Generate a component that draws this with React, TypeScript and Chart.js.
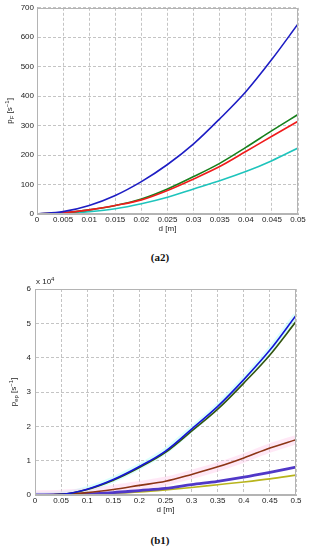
import React, { useEffect, useRef } from 'react';
import { Chart, registerables } from 'chart.js';

Chart.register(...registerables);

// ---------- Panel (a2) ----------
const aD = [0, 0.005, 0.01, 0.015, 0.02, 0.025, 0.03, 0.035, 0.04, 0.045, 0.05];
const aBlue = [0, 8, 29, 63, 110, 168, 238, 323, 415, 525, 645];
const aGreen = [0, 4, 14, 29, 51, 85, 127, 172, 226, 283, 338];
const aRed = [0, 4, 14, 29, 48, 80, 119, 161, 212, 264, 315];
const aCyan = [0, 2, 8, 18, 35, 57, 85, 113, 144, 181, 224];
const aXTicks = [0, 0.005, 0.01, 0.015, 0.02, 0.025, 0.03, 0.035, 0.04, 0.045, 0.05];
const aXTickLabels = ['0', '0.005', '0.01', '0.015', '0.02', '0.025', '0.03', '0.035', '0.04', '0.045', '0.05'];
const aYTicks = [0, 100, 200, 300, 400, 500, 600, 700];
const aYTickLabels = ['0', '100', '200', '300', '400', '500', '600', '700'];

// ---------- Panel (b1) (values in units of 10^4) ----------
const bD = [0, 0.05, 0.1, 0.15, 0.2, 0.25, 0.3, 0.35, 0.4, 0.45, 0.5];
const bBlue = [0, 0.02, 0.17, 0.45, 0.83, 1.28, 1.92, 2.58, 3.36, 4.22, 5.23];
const bGreen = [0, 0.02, 0.16, 0.43, 0.8, 1.24, 1.86, 2.5, 3.26, 4.08, 5.05];
const bBrown = [0, 0.02, 0.07, 0.16, 0.28, 0.4, 0.6, 0.82, 1.08, 1.37, 1.61];
const bPurple = [0, 0.01, 0.03, 0.07, 0.13, 0.19, 0.3, 0.4, 0.52, 0.66, 0.81];
const bYellow = [0, 0.005, 0.02, 0.05, 0.09, 0.15, 0.22, 0.3, 0.38, 0.47, 0.58];
const bXTicks = [0, 0.05, 0.1, 0.15, 0.2, 0.25, 0.3, 0.35, 0.4, 0.45, 0.5];
const bXTickLabels = ['0', '0.05', '0.1', '0.15', '0.2', '0.25', '0.3', '0.35', '0.4', '0.45', '0.5'];
const bYTicks = [0, 1, 2, 3, 4, 5, 6];
const bYTickLabels = ['0', '1', '2', '3', '4', '5', '6'];

const FAMILY = "'Liberation Sans', Arial, Helvetica, sans-serif";
const TEXT = '#222222';
const GRID = '#c4c4c4';
const BOX = '#b4b4b4';

type Piece = { t: string; s: number; dy?: number };

function drawPieces(
  ctx: CanvasRenderingContext2D,
  pieces: Piece[],
  x: number,
  y: number,
  rotate: boolean,
  align: 'center' | 'left'
) {
  ctx.save();
  ctx.translate(x, y);
  if (rotate) ctx.rotate(-Math.PI / 2);
  ctx.fillStyle = TEXT;
  ctx.textBaseline = 'middle';
  ctx.textAlign = 'left';
  let total = 0;
  for (const p of pieces) {
    ctx.font = `${p.s}px ${FAMILY}`;
    total += ctx.measureText(p.t).width;
  }
  let cx = align === 'center' ? -total / 2 : 0;
  for (const p of pieces) {
    ctx.font = `${p.s}px ${FAMILY}`;
    ctx.fillText(p.t, cx, p.dy || 0);
    cx += ctx.measureText(p.t).width;
  }
  ctx.restore();
}

type PanelSpec = {
  width: number;
  height: number;
  padTop: number;
  padRight: number;
  yAxisWidth: number;
  xAxisHeight: number;
  xMin: number;
  xMax: number;
  yMin: number;
  yMax: number;
  xTicks: number[];
  xTickLabels: string[];
  yTicks: number[];
  yTickLabels: string[];
  yTickPad: number;
  datasets: any[];
  xTitleY: number;
  yTitleX: number;
  yTitle: Piece[];
  extra?: (ctx: CanvasRenderingContext2D, area: any) => void;
};

function makeConfig(p: PanelSpec): any {
  const deco = {
    id: 'deco',
    afterDraw(chart: any) {
      const ctx = chart.ctx as CanvasRenderingContext2D;
      const a = chart.chartArea;
      ctx.save();
      ctx.strokeStyle = BOX;
      ctx.lineWidth = 1;
      ctx.setLineDash([]);
      ctx.strokeRect(Math.round(a.left) + 0.5, Math.round(a.top) + 0.5, Math.round(a.right - a.left) - 1, Math.round(a.bottom - a.top) - 1);
      ctx.restore();
      drawPieces(ctx, [{ t: 'd [m]', s: 8 }], (a.left + a.right) / 2, p.xTitleY, false, 'center');
      drawPieces(ctx, p.yTitle, p.yTitleX, (a.top + a.bottom) / 2, true, 'center');
      if (p.extra) p.extra(ctx, a);
    },
  };
  return {
    type: 'line',
    data: { datasets: p.datasets },
    options: {
      animation: false,
      responsive: false,
      devicePixelRatio: 1,
      layout: { padding: { top: p.padTop, right: p.padRight, left: 0, bottom: 0 } },
      plugins: { legend: { display: false }, tooltip: { enabled: false } },
      elements: { point: { radius: 0 }, line: { cubicInterpolationMode: 'monotone' } },
      scales: {
        x: {
          type: 'linear',
          min: p.xMin,
          max: p.xMax,
          afterFit: (s: any) => {
            s.height = p.xAxisHeight;
          },
          afterBuildTicks: (s: any) => {
            s.ticks = p.xTicks.map((v) => ({ value: v }));
          },
          ticks: {
            autoSkip: false,
            maxRotation: 0,
            minRotation: 0,
            padding: 1,
            color: TEXT,
            font: { family: FAMILY, size: 8 },
            callback: (_v: any, i: number) => p.xTickLabels[i],
          },
          grid: { color: GRID, drawTicks: false, lineWidth: 1 },
          border: { display: true, color: BOX, dash: [3, 2] },
        },
        y: {
          type: 'linear',
          min: p.yMin,
          max: p.yMax,
          afterFit: (s: any) => {
            s.width = p.yAxisWidth;
          },
          afterBuildTicks: (s: any) => {
            s.ticks = p.yTicks.map((v) => ({ value: v }));
          },
          ticks: {
            autoSkip: false,
            padding: p.yTickPad,
            color: TEXT,
            font: { family: FAMILY, size: 8 },
            callback: (_v: any, i: number) => p.yTickLabels[i],
          },
          grid: { color: GRID, drawTicks: false, lineWidth: 1 },
          border: { display: true, color: BOX, dash: [3, 2] },
        },
      },
    },
    plugins: [deco],
  };
}

function series(xs: number[], ys: number[], color: string, width = 1.6) {
  return {
    data: xs.map((x, i) => ({ x, y: ys[i] })),
    borderColor: color,
    backgroundColor: color,
    borderWidth: width,
    fill: false,
    pointRadius: 0,
  };
}

function Panel({ spec, top }: { spec: PanelSpec; top: number }) {
  const ref = useRef<HTMLCanvasElement | null>(null);
  useEffect(() => {
    if (!ref.current) return;
    const chart = new Chart(ref.current, makeConfig(spec));
    return () => chart.destroy();
  }, [spec]);
  return (
    <canvas
      ref={ref}
      width={spec.width}
      height={spec.height}
      style={{ position: 'absolute', left: 0, top, width: spec.width, height: spec.height }}
    />
  );
}

const specA: PanelSpec = {
  width: 311,
  height: 240,
  padTop: 7,
  padRight: 13,
  yAxisWidth: 37,
  xAxisHeight: 26,
  xMin: 0,
  xMax: 0.05,
  yMin: 0,
  yMax: 700,
  xTicks: aXTicks,
  xTickLabels: aXTickLabels,
  yTicks: aYTicks,
  yTickLabels: aYTickLabels,
  yTickPad: 3,
  datasets: [
    series(aD, aBlue, '#1e1ec4'),
    series(aD, aRed, '#f01c1c'),
    series(aD, aGreen, '#17801c'),
    series(aD, aCyan, '#1ec4bc'),
  ],
  xTitleY: 229,
  yTitleX: 10,
  yTitle: [
    { t: 'p', s: 8 },
    { t: 'F', s: 6, dy: 2 },
    { t: ' [s', s: 8 },
    { t: '\u22121', s: 6, dy: -3 },
    { t: ']', s: 8 },
  ],
};

const specB: PanelSpec = {
  width: 311,
  height: 250,
  padTop: 19,
  padRight: 15,
  yAxisWidth: 35,
  xAxisHeight: 25,
  xMin: 0,
  xMax: 0.5,
  yMin: 0,
  yMax: 6,
  xTicks: bXTicks,
  xTickLabels: bXTickLabels,
  yTicks: bYTicks,
  yTickLabels: bYTickLabels,
  yTickPad: 4,
  datasets: [
    series(bD, bBlue, '#1414d8'),
    series(bD, bGreen, '#34540e'),
    series(bD, bBrown, '#8c3414'),
    series(bD, bPurple, '#5038c8', 2.8),
    series(bD, bYellow, '#b8b41c'),
    series(bD, bBrown, 'rgba(255,205,235,0.45)', 9),
    series(bD, bBlue, 'rgba(190,255,250,0.55)', 6),
  ],
  xTitleY: 240,
  yTitleX: 14,
  yTitle: [
    { t: 'p', s: 8 },
    { t: 'ep', s: 6, dy: 2 },
    { t: ' [s', s: 8 },
    { t: '\u22121', s: 6, dy: -3 },
    { t: ']', s: 8 },
  ],
  extra: (ctx, a) => {
    drawPieces(
      ctx,
      [
        { t: 'x 10', s: 8 },
        { t: '4', s: 6, dy: -3 },
      ],
      a.left + 1,
      a.top - 7,
      false,
      'left'
    );
  },
};

const captionStyle: React.CSSProperties = {
  position: 'absolute',
  left: 0,
  width: 320,
  textAlign: 'center',
  fontFamily: "'Liberation Serif', 'DejaVu Serif', serif",
  fontWeight: 'bold',
  fontSize: 11,
  lineHeight: '13px',
  color: '#111',
};

export default function App() {
  return (
    <div style={{ position: 'absolute', left: 0, top: 0, width: 311, height: 550, background: '#fff', overflow: 'hidden' }}>
      <Panel spec={specA} top={0} />
      <div style={{ ...captionStyle, top: 251 }}>(a2)</div>
      <Panel spec={specB} top={270} />
      <div style={{ ...captionStyle, top: 534 }}>(b1)</div>
    </div>
  );
}
